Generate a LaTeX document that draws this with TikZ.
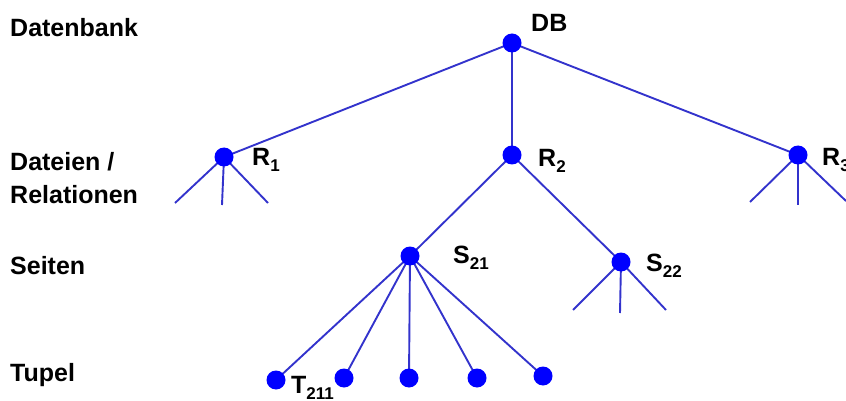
\documentclass[tikz,border=0pt]{standalone}
\usepackage{fontspec}
\setmainfont{Liberation Sans}
\definecolor{edgeblue}{HTML}{3333CC}
\definecolor{dotblue}{HTML}{0000FF}
\newcommand{\lsub}[1]{\raisebox{-6pt}{\fontsize{17}{17}\selectfont #1}}
\begin{document}
\begin{tikzpicture}[x=1pt,y=-1pt,
  dotnode/.style={circle,fill=dotblue,inner sep=0pt,minimum size=19pt},
  edge/.style={draw=edgeblue,line width=1.9pt},
  lbl/.style={anchor=base west,inner sep=0pt,font=\fontsize{25}{30}\bfseries\selectfont},
  levellbl/.style={anchor=base west,inner sep=0pt,align=left,font=\fontsize{25}{32}\bfseries\selectfont}]
\useasboundingbox (0,0) rectangle (846,401);
% dot positions
\coordinate (db) at (512,43);
\coordinate (r1) at (224,157);
\coordinate (r2) at (512,155);
\coordinate (r3) at (798,155);
\coordinate (s21) at (410,256);
\coordinate (s22) at (621,262);
\coordinate (t1) at (276,380);
\coordinate (t2) at (344,378);
\coordinate (t3) at (409,378);
\coordinate (t4) at (477,378);
\coordinate (t5) at (543,376);
% leaf ends
\coordinate (r1a) at (175,203);
\coordinate (r1b) at (222,205);
\coordinate (r1c) at (268,203);
\coordinate (r3a) at (750,202);
\coordinate (r3b) at (798,205);
\coordinate (r3c) at (846,201);
\coordinate (s22a) at (573,310);
\coordinate (s22b) at (620,313);
\coordinate (s22c) at (666,310);
% edges
\draw[edge] (db) -- (r1);
\draw[edge] (db) -- (r2);
\draw[edge] (db) -- (r3);
\draw[edge] (r2) -- (s21);
\draw[edge] (r2) -- (s22);
\foreach \t in {t1,t2,t3,t4,t5} \draw[edge] (s21) -- (\t);
\foreach \l in {r1a,r1b,r1c} \draw[edge] (r1) -- (\l);
\foreach \l in {r3a,r3b,r3c} \draw[edge] (r3) -- (\l);
\foreach \l in {s22a,s22b,s22c} \draw[edge] (s22) -- (\l);
% dots
\foreach \d in {db,r1,r2,r3,s21,s22,t1,t2,t3,t4,t5} \node[dotnode] (n\d) at (\d) {};
% labels
\node[lbl] (ldb) at (531,32) {DB};
\node[lbl] (lr1) at (252,165) {R\lsub{1}};
\node[lbl] (lr2) at (538,166) {R\lsub{2}};
\node[lbl] (lr3) at (822,165) {R\lsub{3}};
\node[lbl] (ls21) at (453,263) {S\lsub{21}};
\node[lbl] (ls22) at (646,271) {S\lsub{22}};
\node[lbl] (lt211) at (291,393) {T\lsub{211}};
% level labels
\node[levellbl] (lv1) at (10,37) {Datenbank};
\node[levellbl] (lv2) at (10,171) {Dateien /};
\node[levellbl] (lv2b) at (10,203) {Relationen};
\node[levellbl] (lv3) at (10,274) {Seiten};
\node[levellbl] (lv4) at (10,381) {Tupel};
\end{tikzpicture}
\end{document}
